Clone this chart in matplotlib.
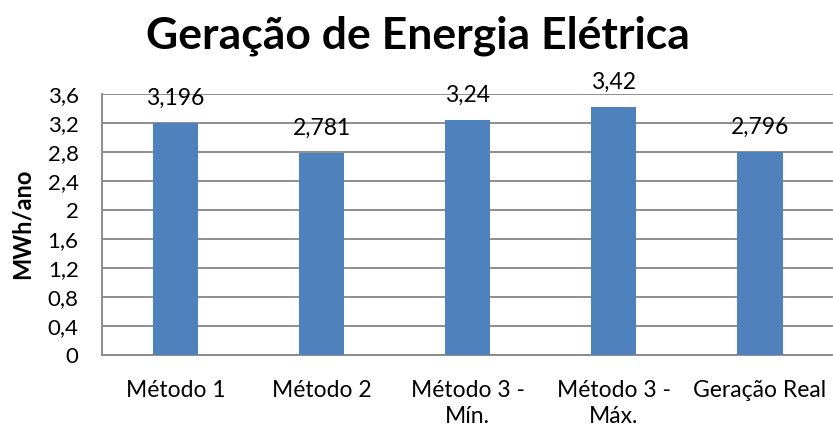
import matplotlib
matplotlib.use("Agg")
import matplotlib.pyplot as plt

categories = ["Método 1", "Método 2", "Método 3 -\nMín.", "Método 3 -\nMáx.", "Geração Real"]
values = [3.196, 2.781, 3.24, 3.42, 2.796]
value_labels = ["3,196", "2,781", "3,24", "3,42", "2,796"]
yticks = [0, 0.4, 0.8, 1.2, 1.6, 2.0, 2.4, 2.8, 3.2, 3.6]
ytick_labels = ["0", "0,4", "0,8", "1,2", "1,6", "2", "2,4", "2,8", "3,2", "3,6"]

plt.rcParams['font.family'] = ['Lato', 'DejaVu Sans']

fig = plt.figure(figsize=(8.33, 4.32), dpi=100)
ax = fig.add_axes([102.3 / 833, 1 - 355 / 432, 1 - 102.3 / 833, (355 - 94) / 432])

grid_c = "#868686"
x = list(range(len(categories)))
ax.bar(x, values, width=0.31, color="#4F81BD", zorder=3)

ax.set_xlim(-0.5, len(categories) - 0.5)
ax.set_ylim(0, 3.6)
ax.set_yticks(yticks)
ax.set_yticklabels(ytick_labels, fontsize=16)
ax.set_xticks(x)
ax.set_xticklabels(categories, fontsize=16.5, linespacing=1.28)
ax.tick_params(axis='y', length=0, pad=17)
ax.tick_params(axis='x', length=0, pad=18)

ax.yaxis.grid(True, color=grid_c, linewidth=1.3, zorder=0)
for s in ["top", "right"]:
    ax.spines[s].set_visible(False)
for s in ["left", "bottom"]:
    ax.spines[s].set_color(grid_c)
    ax.spines[s].set_linewidth(1.3)

for xi, v, lab in zip(x, values, value_labels):
    ax.annotate(lab, (xi, v), xytext=(0, 13), textcoords="offset points",
                ha="center", va="baseline", fontsize=16.5)

fig.text(22 / 833, 1 - 224 / 432, "MWh/ano", rotation=90, ha="center", va="center",
         fontsize=17, fontweight="bold")

fig.text(0.502, 1 - 48 / 432, "Geração de Energia Elétrica", ha="center", va="baseline",
         fontsize=32, fontweight="bold")

fig.savefig("out.png", dpi=100)
